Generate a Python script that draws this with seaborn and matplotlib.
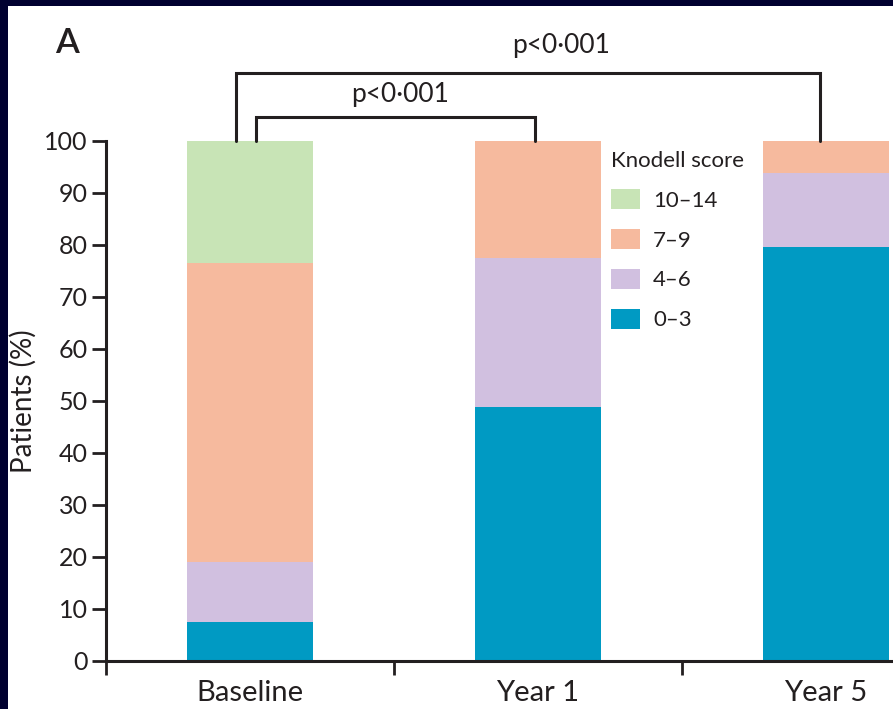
import matplotlib
matplotlib.use("Agg")
import matplotlib.pyplot as plt
from matplotlib.patches import Rectangle, Patch
import numpy as np
import pandas as pd
import seaborn as sns

# Knodell score distribution per visit (% of patients)
timepoints = ["Baseline", "Year 1", "Year 5"]
score_0_3 = [7.5, 48.8, 79.6]
score_4_6 = [11.5, 28.7, 14.2]
score_7_9 = [57.5, 22.5, 6.2]
score_10_14 = [23.5, 0.0, 0.0]
y_ticks = list(range(0, 101, 10))
p_label = "p<0·001"

colors = {
    "0–3": "#009AC3",
    "4–6": "#D1C0E0",
    "7–9": "#F6BA9E",
    "10–14": "#C8E4B6",
}
ink = "#231F20"

sns.set_theme(style="white")
plt.rcParams["font.family"] = ["Lato", "DejaVu Sans"]

fig = plt.figure(figsize=(8.93, 7.09), dpi=100, facecolor="#000030")
fig.patches.append(Rectangle((8 / 893, 0), 1, 1 - 6 / 709, transform=fig.transFigure,
                             facecolor="white", edgecolor="none", zorder=-10))

ax = fig.add_axes([106 / 893, 48 / 709, 864 / 893, 520 / 709])
ax.set_facecolor("none")

# stack by overlaying cumulative totals, tallest first
df = pd.DataFrame({
    "time": timepoints,
    "0–3": score_0_3,
    "4–6": score_4_6,
    "7–9": score_7_9,
    "10–14": score_10_14,
})
order = ["0–3", "4–6", "7–9", "10–14"]
cum = df[order].cumsum(axis=1)
for key in reversed(order):
    sns.barplot(x=df["time"], y=cum[key], color=colors[key], width=0.44,
                saturation=1, linewidth=0, ax=ax)

ax.set_xlim(-0.5, 2.5)
ax.set_ylim(0, 100)
ax.set_yticks(y_ticks)
ax.set_xlabel("")
ax.set_ylabel("Patients (%)", fontsize=20, color=ink)
ax.yaxis.set_label_coords(-0.080, 0.5)

sns.despine(ax=ax)
for s in ["left", "bottom"]:
    ax.spines[s].set_linewidth(2.2)
    ax.spines[s].set_color(ink)

ax.tick_params(axis="y", which="major", length=10, width=2, color=ink,
               labelsize=18, labelcolor=ink, pad=3, left=True)
ax.set_xticks([0, 1, 2])
ax.set_xticklabels(timepoints)
ax.set_xticks([-0.5, 0.5, 1.5, 2.5], minor=True)
ax.tick_params(axis="x", which="major", length=0, labelsize=21, labelcolor=ink, pad=14)
ax.tick_params(axis="x", which="minor", length=10, width=2, color=ink, bottom=True)

# significance brackets
br = dict(color=ink, lw=2.2, clip_on=False, solid_joinstyle="miter")
ax.plot([-0.05, -0.05, 1.98, 1.98], [100, 113.1, 113.1, 100], **br)
ax.plot([0.02, 0.02, 0.99, 0.99], [100, 104.6, 104.6, 100], **br)
ax.text(1.08, 118.4, p_label, ha="center", va="center", fontsize=19, color=ink, clip_on=False)
ax.text(0.52, 109.0, p_label, ha="center", va="center", fontsize=19, color=ink, clip_on=False)

fig.text(67 / 893, 1 - 43 / 709, "A", ha="center", va="center", fontsize=25,
         color=ink, fontweight="semibold")

handles = [Patch(facecolor=colors[k], edgecolor="none", label=k) for k in reversed(order)]
leg = ax.legend(handles=handles, title="Knodell score", loc="upper left",
                bbox_to_anchor=(0.561, 1.019), frameon=False, fontsize=16,
                title_fontsize=16, handlelength=1.3, handleheight=1.0,
                labelspacing=0.82, handletextpad=0.6, alignment="left")
for t in leg.get_texts():
    t.set_color(ink)
leg.get_title().set_color(ink)

fig.savefig("out.png", dpi=100, facecolor=fig.get_facecolor())
